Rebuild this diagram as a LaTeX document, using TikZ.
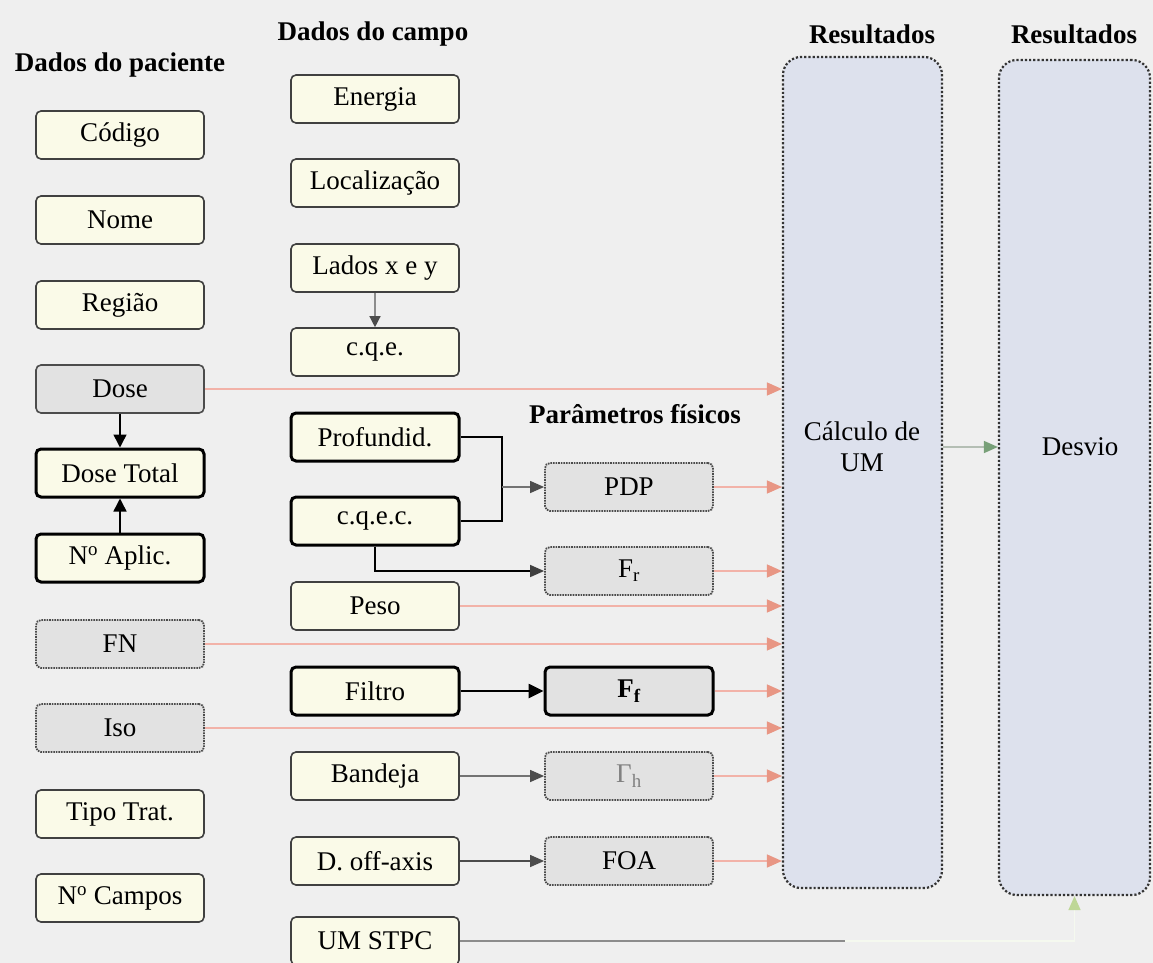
\documentclass[tikz,border=0pt]{standalone}
\usepackage{fontspec}
\setmainfont{Liberation Serif}
\usetikzlibrary{arrows.meta}

\definecolor{pagebg}{RGB}{239,239,239}
\definecolor{cream}{RGB}{250,250,232}
\definecolor{boxgray}{RGB}{226,226,226}
\definecolor{resfill}{RGB}{221,225,237}
\definecolor{salmonline}{RGB}{242,178,168}
\definecolor{salmontip}{RGB}{232,150,132}
\definecolor{greenline}{RGB}{180,190,180}
\definecolor{greentip}{RGB}{120,160,120}
\definecolor{lightgreen}{RGB}{190,215,150}

\begin{document}
\begin{tikzpicture}[x=1pt,y=-1pt,
  txt/.style={font=\fontsize{27}{31}\selectfont},
  head/.style={font=\bfseries\fontsize{27}{31}\selectfont, anchor=base},
  cbox/.style={txt, rectangle, rounded corners=5pt, minimum width=168pt,
    minimum height=48pt, inner sep=0pt, line width=1.6pt, draw=black!75, fill=cream},
  kbox/.style={cbox, line width=3pt, draw=black},
  gbox/.style={cbox, fill=boxgray, draw=black!70},
  dbox/.style={gbox, densely dotted, line width=1.8pt},
  resbox/.style={rectangle, rounded corners=18pt, fill=resfill, draw=black!80,
    dotted, line width=2.2pt},
  feed/.style={salmonline, line width=1.5pt,
    -{Triangle[length=15pt,width=13pt,color=salmontip]}},
  link/.style={black, line width=1.5pt, -{Triangle[length=13pt,width=13pt]}},
  thinlink/.style={black!55, line width=1.3pt,
    -{Triangle[length=14pt,width=12pt,color=black!70]}},
  boldlink/.style={black, line width=2.6pt, -{Triangle[length=15pt,width=14pt]}},
  bracket/.style={black, line width=1.5pt}
]
\useasboundingbox (0,0) rectangle (1153,963);
\fill[pagebg] (0,0) rectangle (1153,963);
\clip (0,0) rectangle (1153,963);

% column headings
\node[head] (hpac) at (120,72) {Dados do paciente};
\node[head] (hcam) at (373,41) {Dados do campo};
\node[head] (hpar) at (635,423) {Parâmetros físicos};
\node[head] (hres1) at (872,44) {Resultados};
\node[head] (hres2) at (1074,44) {Resultados};

% result columns
\node[resbox, minimum width=159pt, minimum height=831pt] (calc) at (862.5,472.5) {};
\node[resbox, minimum width=151pt, minimum height=835pt] (desvio) at (1074.5,477.5) {};
\node[txt, align=center] (calctxt) at (862,447) {Cálculo de\\UM};
\node[txt] (desviotxt) at (1080,447) {Desvio};

% patient data
\node[cbox] (codigo) at (120,135) {Código};
\node[cbox] (nome)   at (120,220) {Nome};
\node[cbox] (regiao) at (120,305) {Região};
\node[gbox] (dose)   at (120,389) {Dose};
\node[kbox] (dtotal) at (120,473) {Dose Total};
\node[kbox] (naplic) at (120,558) {N\textsuperscript{o} Aplic.};
\node[dbox] (fn)     at (120,644) {FN};
\node[dbox] (iso)    at (120,728) {Iso};
\node[cbox] (tipo)   at (120,814) {Tipo Trat.};
\node[cbox] (ncamp)  at (120,898) {N\textsuperscript{o} Campos};

% field data
\node[cbox] (energia) at (375,99)  {Energia};
\node[cbox] (local)   at (375,183) {Localização};
\node[cbox] (lados)   at (375,268) {Lados x e y};
\node[cbox] (cqe)     at (375,352) {c.q.e.};
\node[kbox] (prof)    at (375,437) {Profundid.};
\node[kbox] (cqec)    at (375,521) {c.q.e.c.};
\node[cbox] (peso)    at (375,606) {Peso};
\node[kbox] (filtro)  at (375,691) {Filtro};
\node[cbox] (bandeja) at (375,776) {Bandeja};
\node[cbox] (doff)    at (375,861) {D. off-axis};
\node[cbox] (umstpc)  at (375,941) {UM STPC};

% physical parameters
\node[dbox] (pdp) at (629,487) {PDP};
\node[dbox] (fr)  at (629,571) {F\textsubscript{r}};
\node[gbox, line width=3pt, draw=black] (ff) at (629,691) {\textbf{F\textsubscript{f}}};
\node[dbox, text=black!50] (fh) at (629,776) {Γ\textsubscript{h}};
\node[dbox] (foa) at (629,861) {FOA};

% links inside the data columns
\draw[link] (dose) -- (dtotal);
\draw[link] (naplic) -- (dtotal);
\draw[black!45, line width=1.3pt, -{Triangle[length=11pt,width=11pt,color=black!70]}] (lados) -- (cqe);

\coordinate (jn) at (502,487);
\draw[bracket] (prof.east) -| (jn) |- (cqec.east);
\draw[thinlink] (jn) -- (pdp.west);
\draw[bracket, -{Triangle[length=14pt,width=12pt,color=black!75]}] (cqec.south) |- (fr.west);
\draw[boldlink] (filtro) -- (ff);
\draw[thinlink] (bandeja) -- (fh);
\draw[thinlink, black!70] (doff) -- (foa);

% feeds into the MU calculation
\foreach \src in {dose,pdp,fr,peso,fn,ff,iso,fh,foa}
  \draw[feed] (\src.east) -- (\src.east -| calc.west);

% MU calculation to deviation
\draw[greenline, line width=1.5pt, -{Triangle[length=14pt,width=12pt,color=greentip]}]
  (calc.east |- calctxt) -- (desvio.west |- calctxt);

% UM STPC to deviation
\draw[white!85!lightgreen, line width=1.5pt, -{Triangle[length=14pt,width=12pt,color=lightgreen]}]
  (umstpc.east) -| (desvio.south);
\draw[black!45, line width=1.3pt] (umstpc.east) -- ++(385,0);
\end{tikzpicture}
\end{document}
